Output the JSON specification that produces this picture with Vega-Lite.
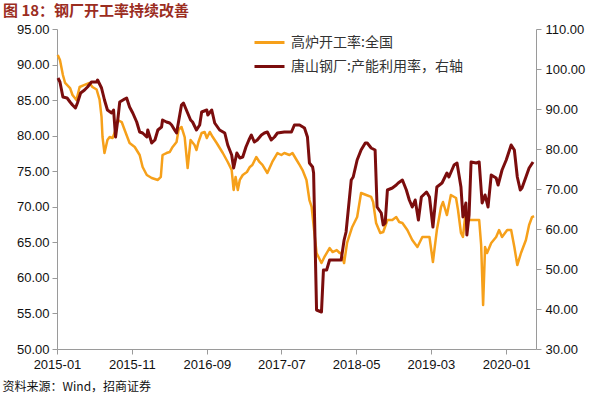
{
  "$schema": "https://vega.github.io/schema/vega-lite/v6.json",
  "width": 479,
  "height": 320,
  "autosize": {"type": "none"},
  "padding": {"left": 57, "top": 29, "right": 64, "bottom": 47},
  "background": "white",
  "config": {"view": {"stroke": null}, "font": "Liberation Sans"},
  "title": {
    "text": "图 18：钢厂开工率持续改善",
    "anchor": "start",
    "frame": "group",
    "dx": -54,
    "dy": 0,
    "offset": 4,
    "font": "Noto Sans CJK SC",
    "fontSize": 15,
    "fontWeight": "bold",
    "color": "#9B2D1F"
  },
  "datasets": {
    "blast": [
      {"date": "2015-01-04", "value": 91.34}, {"date": "2015-01-13", "value": 90.64}, {"date": "2015-01-25", "value": 88.53},
      {"date": "2015-02-03", "value": 87.41}, {"date": "2015-02-23", "value": 86.70}, {"date": "2015-03-05", "value": 85.72},
      {"date": "2015-03-21", "value": 85.01}, {"date": "2015-04-03", "value": 86.84}, {"date": "2015-04-23", "value": 87.13},
      {"date": "2015-05-13", "value": 87.41}, {"date": "2015-05-25", "value": 86.84}, {"date": "2015-06-11", "value": 86.49},
      {"date": "2015-06-23", "value": 85.08}, {"date": "2015-07-01", "value": 82.63}, {"date": "2015-07-05", "value": 79.81},
      {"date": "2015-07-13", "value": 77.56}, {"date": "2015-07-25", "value": 79.39}, {"date": "2015-08-03", "value": 79.81},
      {"date": "2015-08-15", "value": 79.67}, {"date": "2015-08-23", "value": 80.38}, {"date": "2015-09-05", "value": 82.20},
      {"date": "2015-09-21", "value": 81.92}, {"date": "2015-10-03", "value": 80.80}, {"date": "2015-10-23", "value": 78.97},
      {"date": "2015-11-13", "value": 78.41}, {"date": "2015-12-03", "value": 77.28}, {"date": "2015-12-15", "value": 75.60},
      {"date": "2016-01-01", "value": 74.47}, {"date": "2016-01-21", "value": 74.05}, {"date": "2016-02-15", "value": 73.77},
      {"date": "2016-02-27", "value": 74.19}, {"date": "2016-03-05", "value": 77.28}, {"date": "2016-03-21", "value": 77.56},
      {"date": "2016-04-03", "value": 77.70}, {"date": "2016-04-15", "value": 78.41}, {"date": "2016-05-01", "value": 79.11},
      {"date": "2016-05-09", "value": 80.80}, {"date": "2016-05-21", "value": 81.22}, {"date": "2016-06-03", "value": 79.81},
      {"date": "2016-06-15", "value": 75.45}, {"date": "2016-06-27", "value": 79.39}, {"date": "2016-07-13", "value": 78.69},
      {"date": "2016-07-21", "value": 77.98}, {"date": "2016-07-29", "value": 79.11}, {"date": "2016-08-11", "value": 80.38},
      {"date": "2016-08-23", "value": 80.52}, {"date": "2016-09-01", "value": 79.67}, {"date": "2016-09-13", "value": 80.52},
      {"date": "2016-09-25", "value": 79.81}, {"date": "2016-10-11", "value": 78.97}, {"date": "2016-11-05", "value": 77.56},
      {"date": "2016-11-25", "value": 76.30}, {"date": "2016-12-11", "value": 75.17}, {"date": "2016-12-19", "value": 72.36},
      {"date": "2016-12-27", "value": 74.19}, {"date": "2017-01-05", "value": 72.36}, {"date": "2017-01-13", "value": 73.77},
      {"date": "2017-01-25", "value": 74.47}, {"date": "2017-02-11", "value": 74.89}, {"date": "2017-02-23", "value": 75.60},
      {"date": "2017-03-05", "value": 75.88}, {"date": "2017-03-21", "value": 77.00}, {"date": "2017-04-03", "value": 76.30},
      {"date": "2017-04-15", "value": 75.88}, {"date": "2017-05-05", "value": 74.75}, {"date": "2017-05-25", "value": 76.30},
      {"date": "2017-06-15", "value": 77.56}, {"date": "2017-07-01", "value": 77.28}, {"date": "2017-07-13", "value": 77.56},
      {"date": "2017-08-03", "value": 77.28}, {"date": "2017-08-15", "value": 77.56}, {"date": "2017-09-01", "value": 76.58},
      {"date": "2017-09-13", "value": 75.88}, {"date": "2017-09-25", "value": 75.17}, {"date": "2017-10-11", "value": 73.77},
      {"date": "2017-10-23", "value": 70.95}, {"date": "2017-11-01", "value": 69.97}, {"date": "2017-11-21", "value": 63.50},
      {"date": "2017-12-11", "value": 62.09}, {"date": "2017-12-23", "value": 62.94}, {"date": "2018-01-13", "value": 64.20},
      {"date": "2018-01-25", "value": 63.64}, {"date": "2018-02-11", "value": 63.92}, {"date": "2018-02-23", "value": 63.50},
      {"date": "2018-03-01", "value": 63.50}, {"date": "2018-03-13", "value": 62.09}, {"date": "2018-03-25", "value": 64.91},
      {"date": "2018-04-15", "value": 67.16}, {"date": "2018-05-05", "value": 68.56}, {"date": "2018-05-21", "value": 71.94},
      {"date": "2018-06-11", "value": 71.66}, {"date": "2018-07-01", "value": 71.38}, {"date": "2018-07-09", "value": 70.67},
      {"date": "2018-07-21", "value": 67.72}, {"date": "2018-08-07", "value": 66.31}, {"date": "2018-08-19", "value": 66.45},
      {"date": "2018-09-05", "value": 68.14}, {"date": "2018-09-25", "value": 68.14}, {"date": "2018-10-11", "value": 68.56},
      {"date": "2018-10-23", "value": 67.86}, {"date": "2018-11-05", "value": 67.72}, {"date": "2018-11-25", "value": 66.73},
      {"date": "2018-12-15", "value": 65.33}, {"date": "2019-01-05", "value": 64.34}, {"date": "2019-01-25", "value": 65.75},
      {"date": "2019-02-23", "value": 65.75}, {"date": "2019-03-09", "value": 62.23}, {"date": "2019-03-25", "value": 66.73},
      {"date": "2019-04-11", "value": 69.97}, {"date": "2019-04-19", "value": 70.67}, {"date": "2019-05-05", "value": 68.84},
      {"date": "2019-05-21", "value": 71.66}, {"date": "2019-06-11", "value": 71.23}, {"date": "2019-06-19", "value": 69.55},
      {"date": "2019-07-01", "value": 66.31}, {"date": "2019-07-09", "value": 65.75}, {"date": "2019-07-21", "value": 69.55},
      {"date": "2019-08-03", "value": 68.14}, {"date": "2019-09-13", "value": 68.14}, {"date": "2019-09-21", "value": 64.63},
      {"date": "2019-09-29", "value": 56.19}, {"date": "2019-10-07", "value": 64.34}, {"date": "2019-10-15", "value": 63.50},
      {"date": "2019-11-01", "value": 64.91}, {"date": "2019-11-21", "value": 65.75}, {"date": "2019-12-03", "value": 66.73},
      {"date": "2019-12-15", "value": 65.75}, {"date": "2020-01-05", "value": 66.73}, {"date": "2020-01-21", "value": 66.73},
      {"date": "2020-02-03", "value": 64.34}, {"date": "2020-02-15", "value": 61.81}, {"date": "2020-03-01", "value": 63.50},
      {"date": "2020-03-21", "value": 65.33}, {"date": "2020-04-03", "value": 67.44}, {"date": "2020-04-15", "value": 68.56},
      {"date": "2020-04-23", "value": 68.70}
    ],
    "tangshan": [
      {"date": "2015-01-05", "value": 97.75}, {"date": "2015-01-13", "value": 96.75}, {"date": "2015-01-25", "value": 93.0},
      {"date": "2015-02-11", "value": 92.75}, {"date": "2015-02-23", "value": 91.75}, {"date": "2015-03-05", "value": 91.0},
      {"date": "2015-03-17", "value": 90.25}, {"date": "2015-03-25", "value": 91.5}, {"date": "2015-04-07", "value": 94.0},
      {"date": "2015-04-23", "value": 94.75}, {"date": "2015-05-05", "value": 95.5}, {"date": "2015-05-21", "value": 96.75},
      {"date": "2015-06-11", "value": 96.75}, {"date": "2015-06-15", "value": 97.25}, {"date": "2015-07-01", "value": 95.25},
      {"date": "2015-07-13", "value": 92.25}, {"date": "2015-07-25", "value": 89.75}, {"date": "2015-08-11", "value": 89.0},
      {"date": "2015-08-19", "value": 89.75}, {"date": "2015-08-27", "value": 83.0}, {"date": "2015-09-05", "value": 87.25},
      {"date": "2015-09-13", "value": 91.75}, {"date": "2015-10-03", "value": 92.5}, {"date": "2015-10-11", "value": 92.75},
      {"date": "2015-10-23", "value": 90.5}, {"date": "2015-11-05", "value": 89.0}, {"date": "2015-11-21", "value": 86.75},
      {"date": "2015-12-03", "value": 84.25}, {"date": "2015-12-15", "value": 84.0}, {"date": "2016-01-01", "value": 83.0},
      {"date": "2016-01-05", "value": 84.75}, {"date": "2016-01-21", "value": 81.5}, {"date": "2016-02-03", "value": 82.25},
      {"date": "2016-02-15", "value": 84.75}, {"date": "2016-03-01", "value": 85.5}, {"date": "2016-03-05", "value": 87.25},
      {"date": "2016-03-21", "value": 86.75}, {"date": "2016-04-03", "value": 86.5}, {"date": "2016-04-11", "value": 86.0},
      {"date": "2016-04-23", "value": 84.75}, {"date": "2016-05-01", "value": 84.0}, {"date": "2016-05-21", "value": 91.0},
      {"date": "2016-05-29", "value": 91.5}, {"date": "2016-06-15", "value": 89.0}, {"date": "2016-06-27", "value": 87.25},
      {"date": "2016-07-05", "value": 86.75}, {"date": "2016-07-21", "value": 84.75}, {"date": "2016-08-03", "value": 86.0},
      {"date": "2016-08-11", "value": 89.25}, {"date": "2016-09-01", "value": 89.75}, {"date": "2016-09-05", "value": 88.5},
      {"date": "2016-09-21", "value": 89.75}, {"date": "2016-10-03", "value": 86.5}, {"date": "2016-10-23", "value": 84.75},
      {"date": "2016-11-13", "value": 84.0}, {"date": "2016-11-25", "value": 81.0}, {"date": "2016-12-11", "value": 78.5},
      {"date": "2016-12-19", "value": 75.25}, {"date": "2017-01-01", "value": 79.0}, {"date": "2017-01-13", "value": 77.75},
      {"date": "2017-01-25", "value": 78.0}, {"date": "2017-02-07", "value": 80.5}, {"date": "2017-02-19", "value": 82.25},
      {"date": "2017-03-01", "value": 83.5}, {"date": "2017-03-13", "value": 81.75}, {"date": "2017-03-25", "value": 82.25},
      {"date": "2017-04-11", "value": 83.5}, {"date": "2017-04-23", "value": 84.0}, {"date": "2017-05-05", "value": 84.25},
      {"date": "2017-05-21", "value": 82.25}, {"date": "2017-06-03", "value": 83.0}, {"date": "2017-06-15", "value": 84.0},
      {"date": "2017-07-13", "value": 84.25}, {"date": "2017-08-11", "value": 84.25}, {"date": "2017-08-23", "value": 86.0},
      {"date": "2017-09-13", "value": 86.0}, {"date": "2017-10-03", "value": 85.25}, {"date": "2017-10-15", "value": 83.0},
      {"date": "2017-10-23", "value": 76.5}, {"date": "2017-11-05", "value": 75.5}, {"date": "2017-11-09", "value": 74.0},
      {"date": "2017-11-21", "value": 39.75}, {"date": "2017-12-11", "value": 39.25}, {"date": "2017-12-19", "value": 49.75},
      {"date": "2018-01-01", "value": 49.75}, {"date": "2018-01-13", "value": 52.25}, {"date": "2018-03-01", "value": 52.25},
      {"date": "2018-03-13", "value": 57.25}, {"date": "2018-03-21", "value": 59.25}, {"date": "2018-04-11", "value": 72.25},
      {"date": "2018-04-19", "value": 73.0}, {"date": "2018-05-05", "value": 77.25}, {"date": "2018-05-21", "value": 79.75},
      {"date": "2018-06-07", "value": 81.5}, {"date": "2018-06-15", "value": 81.5}, {"date": "2018-07-01", "value": 80.25},
      {"date": "2018-07-17", "value": 79.75}, {"date": "2018-07-25", "value": 65.5}, {"date": "2018-08-11", "value": 64.0},
      {"date": "2018-08-19", "value": 61.0}, {"date": "2018-08-27", "value": 61.5}, {"date": "2018-09-05", "value": 69.75},
      {"date": "2018-09-25", "value": 70.25}, {"date": "2018-10-11", "value": 71.0}, {"date": "2018-10-19", "value": 71.5},
      {"date": "2018-11-05", "value": 72.25}, {"date": "2018-11-21", "value": 69.75}, {"date": "2018-12-03", "value": 67.25},
      {"date": "2018-12-15", "value": 65.5}, {"date": "2018-12-27", "value": 67.25}, {"date": "2019-01-09", "value": 62.25},
      {"date": "2019-01-21", "value": 68.0}, {"date": "2019-02-11", "value": 69.25}, {"date": "2019-02-23", "value": 68.0},
      {"date": "2019-03-09", "value": 60.5}, {"date": "2019-03-25", "value": 70.5}, {"date": "2019-04-15", "value": 71.5},
      {"date": "2019-05-05", "value": 74.0}, {"date": "2019-05-13", "value": 73.0}, {"date": "2019-06-03", "value": 76.0},
      {"date": "2019-06-15", "value": 76.5}, {"date": "2019-07-01", "value": 70.5}, {"date": "2019-07-09", "value": 63.0},
      {"date": "2019-07-21", "value": 66.5}, {"date": "2019-07-25", "value": 58.5}, {"date": "2019-08-03", "value": 63.5},
      {"date": "2019-08-11", "value": 76.75}, {"date": "2019-09-01", "value": 76.5}, {"date": "2019-09-13", "value": 76.75},
      {"date": "2019-09-25", "value": 66.5}, {"date": "2019-10-07", "value": 68.5}, {"date": "2019-10-19", "value": 65.5},
      {"date": "2019-11-01", "value": 73.5}, {"date": "2019-11-21", "value": 72.75}, {"date": "2019-11-29", "value": 71.0},
      {"date": "2019-12-15", "value": 74.75}, {"date": "2020-01-01", "value": 77.25}, {"date": "2020-01-21", "value": 81.0},
      {"date": "2020-02-03", "value": 79.75}, {"date": "2020-02-15", "value": 73.0}, {"date": "2020-02-27", "value": 69.75},
      {"date": "2020-03-05", "value": 70.25}, {"date": "2020-03-21", "value": 73.0}, {"date": "2020-04-03", "value": 75.25},
      {"date": "2020-04-19", "value": 76.75}
    ]
  },
  "layer": [
    {
      "data": {"name": "blast"},
      "mark": {"type": "line", "strokeWidth": 2.5, "strokeJoin": "round"},
      "encoding": {
        "x": {
          "field": "date",
          "type": "temporal",
          "scale": {
            "type": "utc",
            "domain": [{"year": 2015, "month": 1, "date": 1, "utc": true}, {"year": 2020, "month": 5, "date": 1, "utc": true}]
          },
          "axis": {
            "values": [
              {"year": 2015, "month": 1, "date": 1, "utc": true},
              {"year": 2015, "month": 11, "date": 1, "utc": true},
              {"year": 2016, "month": 9, "date": 1, "utc": true},
              {"year": 2017, "month": 7, "date": 1, "utc": true},
              {"year": 2018, "month": 5, "date": 1, "utc": true},
              {"year": 2019, "month": 3, "date": 1, "utc": true},
              {"year": 2020, "month": 1, "date": 1, "utc": true}
            ],
            "format": "%Y-%m",
            "grid": false,
            "domainColor": "#9a9a9a",
            "tickColor": "#9a9a9a",
            "tickSize": 5,
            "labelFont": "Liberation Sans",
            "labelFontSize": 13,
            "labelColor": "#111",
            "labelPadding": 4,
            "labelFlush": false,
            "labelOverlap": false,
            "title": "资料来源：Wind，招商证券",
            "titleFont": "Noto Sans CJK SC",
            "titleFontSize": 12,
            "titleFontWeight": "normal",
            "titleColor": "#111",
            "titleAnchor": "start",
            "titleAlign": "left",
            "titleBaseline": "middle",
            "titleX": -55,
            "titleY": 37
          }
        },
        "y": {
          "field": "value",
          "type": "quantitative",
          "scale": {"domain": [50, 95], "nice": false, "zero": false},
          "axis": {
            "orient": "left",
            "values": [50, 55, 60, 65, 70, 75, 80, 85, 90, 95],
            "format": ".2f",
            "title": null,
            "grid": false,
            "domainColor": "#9a9a9a",
            "tickColor": "#9a9a9a",
            "tickSize": 5,
            "labelFont": "Liberation Sans",
            "labelFontSize": 13,
            "labelColor": "#111",
            "labelPadding": 3
          }
        },
        "color": {
          "datum": "高炉开工率:全国",
          "type": "nominal",
          "scale": {
            "domain": ["高炉开工率:全国", "唐山钢厂:产能利用率，右轴"],
            "range": ["#F6A01A", "#7B0D0D"]
          },
          "legend": {
            "orient": "none",
            "legendX": 196,
            "legendY": -3,
            "title": null,
            "symbolType": "stroke",
            "symbolSize": 900,
            "symbolStrokeWidth": 3,
            "labelFont": "Noto Sans CJK SC",
            "labelFontSize": 14,
            "labelColor": "#333",
            "labelOffset": 5,
            "labelLimit": 400,
            "rowPadding": 0
          }
        }
      }
    },
    {
      "data": {"name": "tangshan"},
      "mark": {"type": "line", "strokeWidth": 3, "strokeJoin": "round"},
      "encoding": {
        "x": {"field": "date", "type": "temporal"},
        "y": {
          "field": "value",
          "type": "quantitative",
          "scale": {"domain": [30, 110], "nice": false, "zero": false},
          "axis": {
            "orient": "right",
            "values": [30, 40, 50, 60, 70, 80, 90, 100, 110],
            "format": ".2f",
            "title": null,
            "grid": false,
            "domainColor": "#9a9a9a",
            "tickColor": "#9a9a9a",
            "tickSize": 5,
            "labelFont": "Liberation Sans",
            "labelFontSize": 13,
            "labelColor": "#111",
            "labelPadding": 4
          }
        },
        "color": {"datum": "唐山钢厂:产能利用率，右轴", "type": "nominal"}
      }
    }
  ],
  "resolve": {"scale": {"y": "independent"}}
}
